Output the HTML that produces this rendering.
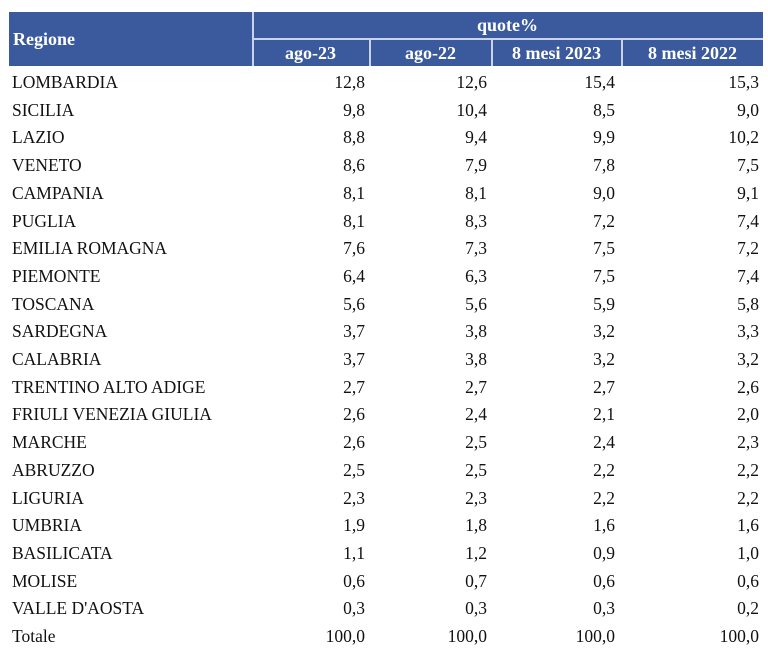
<!DOCTYPE html>
<html><head><meta charset="utf-8"><style>
body{margin:0;background:#fff;width:768px;height:663px;position:relative;overflow:hidden;font-family:"Liberation Serif",serif;color:#111}
.h{position:absolute;background:#3b5a9e;left:9px;top:12px;width:754px;height:54px}
.ln{position:absolute;background:#c9d3ea}
.ht{position:absolute;color:#fff;font-weight:bold;font-size:18px;line-height:20px}
.r{position:absolute;left:0;width:768px;height:28px;font-size:17.5px;line-height:28px}
.r span{position:absolute;top:0}
</style></head><body>
<div class="h"></div>
<div class="ln" style="left:252px;top:12px;width:1.5px;height:54px"></div>
<div class="ln" style="left:252px;top:38px;width:511px;height:1.5px"></div>
<div class="ln" style="left:369px;top:38px;width:1.5px;height:28px"></div>
<div class="ln" style="left:491px;top:38px;width:1.5px;height:28px"></div>
<div class="ln" style="left:621px;top:38px;width:1.5px;height:28px"></div>
<div class="ht" style="left:13px;top:29px">Regione</div>
<div class="ht" style="left:252px;width:511px;text-align:center;top:15px">quote%</div>
<div class="ht" style="left:252px;width:117px;text-align:center;top:43px">ago-23</div>
<div class="ht" style="left:370px;width:121px;text-align:center;top:43px">ago-22</div>
<div class="ht" style="left:492px;width:129px;text-align:center;top:43px">8 mesi 2023</div>
<div class="ht" style="left:622px;width:141px;text-align:center;top:43px">8 mesi 2022</div>
<div id="rows"></div>
<script>
const regions=["LOMBARDIA","SICILIA","LAZIO","VENETO","CAMPANIA","PUGLIA","EMILIA ROMAGNA","PIEMONTE","TOSCANA","SARDEGNA","CALABRIA","TRENTINO ALTO ADIGE","FRIULI VENEZIA GIULIA","MARCHE","ABRUZZO","LIGURIA","UMBRIA","BASILICATA","MOLISE","VALLE D'AOSTA","Totale"];
const ago23=["12,8","9,8","8,8","8,6","8,1","8,1","7,6","6,4","5,6","3,7","3,7","2,7","2,6","2,6","2,5","2,3","1,9","1,1","0,6","0,3","100,0"];
const ago22=["12,6","10,4","9,4","7,9","8,1","8,3","7,3","6,3","5,6","3,8","3,8","2,7","2,4","2,5","2,5","2,3","1,8","1,2","0,7","0,3","100,0"];
const m2023=["15,4","8,5","9,9","7,8","9,0","7,2","7,5","7,5","5,9","3,2","3,2","2,7","2,1","2,4","2,2","2,2","1,6","0,9","0,6","0,3","100,0"];
const m2022=["15,3","9,0","10,2","7,5","9,1","7,4","7,2","7,4","5,8","3,3","3,2","2,6","2,0","2,3","2,2","2,2","1,6","1,0","0,6","0,2","100,0"];
const cols=[ago23,ago22,m2023,m2022];
const rights=[365,487,615,759];
const c=document.getElementById('rows');
regions.forEach((n,i)=>{
 const r=document.createElement('div');r.className='r';r.style.top=(68+i*27.7)+'px';
 
 
 const s=document.createElement('span');s.style.left='12px';s.textContent=n;
 
 
 r.appendChild(s);
 cols.forEach((col,j)=>{const v=document.createElement('span');v.style.right=(768-rights[j])+'px';v.textContent=col[i];
 
 
 r.appendChild(v);});
 c.appendChild(r);
});
</script>
</body></html>
